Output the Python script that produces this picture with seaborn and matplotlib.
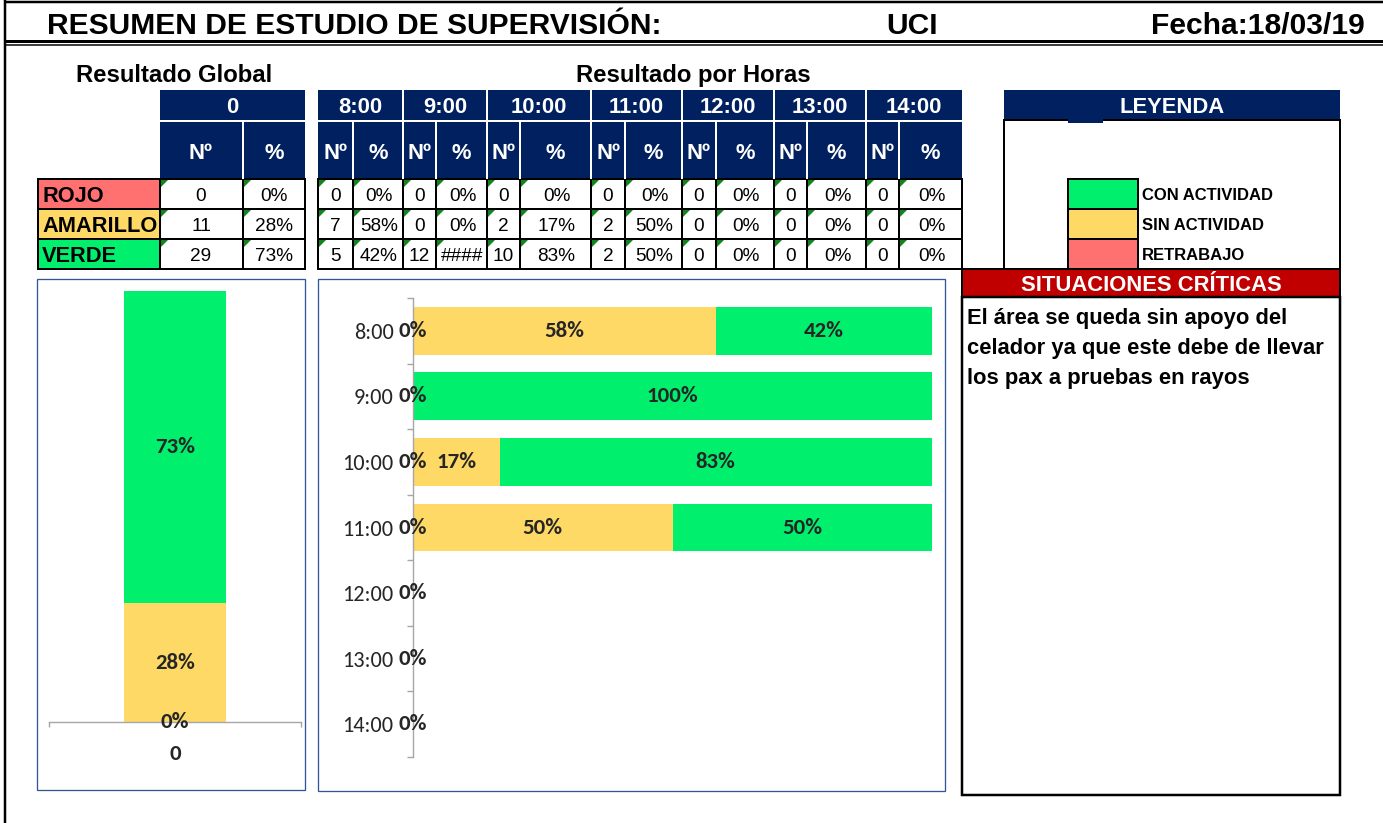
import numpy as np
import pandas as pd
import matplotlib
matplotlib.use("Agg")
import matplotlib.pyplot as plt
import seaborn as sns
from matplotlib.patches import Rectangle, Polygon
from matplotlib import font_manager as fm

# ---------------- data ----------------
title = "RESUMEN DE ESTUDIO DE SUPERVISIÓN:"
unidad = "UCI"
fecha = "Fecha:18/03/19"
hours = ["8:00", "9:00", "10:00", "11:00", "12:00", "13:00", "14:00"]
rojo_n = [0, 0, 0, 0, 0, 0, 0]
amarillo_n = [7, 0, 2, 2, 0, 0, 0]
verde_n = [5, 12, 10, 2, 0, 0, 0]
estados = ["ROJO", "AMARILLO", "VERDE"]
global_label = "0"
leyenda = ["CON ACTIVIDAD", "SIN ACTIVIDAD", "RETRABAJO"]
situaciones = [
    "El área se queda sin apoyo del",
    "celador ya que este debe de llevar",
    "los pax a pruebas en rayos",
]

# ---------------- style ----------------
NAVY = "#002060"
RED = "#FF7171"
YEL = "#FFD966"
GRN = "#00F06E"
CRIT = "#C00000"
FRAME = "#2F5597"
AXGRAY = "#A6A6A6"
TRI = "#11851C"

sns.set_theme(style="white")
_names = {f.name for f in fm.fontManager.ttflist}


def pick(*cands):
    for c in cands:
        if c in _names:
            return c
    return "DejaVu Sans"


ARIAL = pick("Liberation Sans", "Arial")
CALIBRI = pick("Carlito", "Calibri", "Lato", "Open Sans")
plt.rcParams["font.family"] = [ARIAL, "DejaVu Sans"]


def pct(n, t):
    return n / t if t else 0.0


def fmt(p):
    return f"{int(np.floor(p * 100 + 0.5))}%"


# per-hour shares
tot_h = [r + a + v for r, a, v in zip(rojo_n, amarillo_n, verde_n)]
rp = np.array([pct(r, t) for r, t in zip(rojo_n, tot_h)])
ap = np.array([pct(a, t) for a, t in zip(amarillo_n, tot_h)])
vp = np.array([pct(v, t) for v, t in zip(verde_n, tot_h)])

# overall
g_n = [sum(rojo_n), sum(amarillo_n), sum(verde_n)]
g_t = sum(g_n)
g_p = [pct(n, g_t) for n in g_n]

# ---------------- figure ----------------
W, H = 1383, 823
fig = plt.figure(figsize=(W / 100, H / 100), dpi=100)
bg = fig.add_axes([0, 0, 1, 1])
bg.set_xlim(0, W)
bg.set_ylim(H, 0)
bg.axis("off")

PX = 0.72  # points per pixel


def rect(x0, y0, x1, y1, fc="none", ec="none", lw=0.0, z=1):
    bg.add_patch(Rectangle((x0, y0), x1 - x0, y1 - y0, facecolor=fc,
                           edgecolor=ec, linewidth=lw * PX, zorder=z))


def hline(x0, x1, y, color="black", lw=1.5, z=3):
    bg.plot([x0, x1], [y, y], color=color, lw=lw * PX, solid_capstyle="butt", zorder=z)


def vline(x, y0, y1, color="black", lw=1.5, z=3):
    bg.plot([x, x], [y0, y1], color=color, lw=lw * PX, solid_capstyle="butt", zorder=z)


def txt(x, y, s, pt, weight="bold", color="black", ha="center", family=None, z=5):
    px = pt / PX
    bg.text(x, y + 0.36 * px, s, fontsize=pt, fontweight=weight, color=color,
            ha=ha, va="baseline", family=family or ARIAL, zorder=z)


def tri(x, y):
    bg.add_patch(Polygon([(x + 1, y + 1), (x + 8, y + 1), (x + 1, y + 8)],
                         closed=True, facecolor=TRI, edgecolor="none", zorder=4))


# ---- page frame and header ----
vline(5, 0, H, lw=2.5)
hline(5, W, 2, lw=2.5)
hline(5, W, 41, lw=3)
hline(5, W, 45, lw=1.5)
txt(47, 23, title, 21.6, ha="left")
txt(912, 23, unidad, 21.6)
txt(1365, 23, fecha, 21.6, ha="right")

txt(174, 73, "Resultado Global", 17.2)
txt(693, 73, "Resultado por Horas", 17.2)

rows_y = [179, 209, 239, 269]
row_col = [RED, YEL, GRN]

# ---- overall table ----
rect(160, 90, 305, 179, fc=NAVY)
hline(160, 305, 121, color="white", lw=2)
vline(243, 121, 179, color="white", lw=2)
txt(232, 105, global_label, 15.8, color="white")
txt(201, 151, "Nº", 15.8, color="white")
txt(274, 151, "%", 15.8, color="white")

for i, est in enumerate(estados):
    y0, y1 = rows_y[i], rows_y[i + 1]
    rect(38, y0, 160, y1, fc=row_col[i], ec="black", lw=2)
    txt(42, (y0 + y1) / 2, est, 15.7, ha="left")
    rect(160, y0, 243, y1, fc="white", ec="black", lw=2)
    rect(243, y0, 305, y1, fc="white", ec="black", lw=2)
    tri(160, y0)
    tri(243, y0)
    txt(201, (y0 + y1) / 2, str(g_n[i]), 13.7, weight="normal")
    txt(274, (y0 + y1) / 2, fmt(g_p[i]), 13.7, weight="normal")

# ---- hourly table ----
col_edges = [318, 353, 403, 436, 487, 520, 591, 625, 682, 716, 774, 807, 866, 899, 962]
rect(318, 90, 962, 179, fc=NAVY)
hline(318, 962, 121, color="white", lw=2)
for k in range(len(hours)):
    xa, xb, xc = col_edges[2 * k], col_edges[2 * k + 1], col_edges[2 * k + 2]
    if k > 0:
        vline(xa, 90, 179, color="white", lw=2)
    vline(xb, 121, 179, color="white", lw=2)
    txt((xa + xc) / 2, 105, hours[k], 15.8, color="white")
    txt((xa + xb) / 2, 151, "Nº", 15.8, color="white")
    txt((xb + xc) / 2, 151, "%", 15.8, color="white")
    counts = [rojo_n[k], amarillo_n[k], verde_n[k]]
    shares = [rp[k], ap[k], vp[k]]
    for i in range(3):
        y0, y1 = rows_y[i], rows_y[i + 1]
        rect(xa, y0, xb, y1, fc="white", ec="black", lw=2)
        rect(xb, y0, xc, y1, fc="white", ec="black", lw=2)
        tri(xa, y0)
        tri(xb, y0)
        txt((xa + xb) / 2, (y0 + y1) / 2, str(counts[i]), 13.7, weight="normal")
        s = fmt(shares[i])
        if len(s) * 13 > (xc - xb):  # value too wide for the cell
            s = "####"
        txt((xb + xc) / 2 + 1, (y0 + y1) / 2, s, 13.7, weight="normal")

# ---- legend ----
rect(1004, 90, 1340, 120, fc=NAVY)
rect(1068, 119, 1103, 123, fc=NAVY, z=2)
txt(1172, 105, "LEYENDA", 15.8, color="white")
rect(1004, 120, 1340, 269, fc="none", ec="black", lw=2)
for i, (lab, c) in enumerate(zip(leyenda, [GRN, YEL, RED])):
    y0, y1 = rows_y[i], rows_y[i + 1]
    rect(1068, y0, 1138, y1, fc=c, ec="black", lw=2)
    txt(1142, (y0 + y1) / 2, lab, 12, ha="left")

# ---- critical situations ----
rect(962, 269, 1340, 297, fc=CRIT, ec="black", lw=2)
txt(1151, 283, "SITUACIONES CRÍTICAS", 15.8, color="white")
rect(962, 297, 1340, 795, fc="white", ec="black", lw=2.5)
for j, line in enumerate(situaciones):
    txt(967, 316 + 30 * j, line, 15.8, ha="left")

# ---- chart frames ----
rect(37, 279, 305, 790, fc="white", ec=FRAME, lw=1.3)
rect(318, 279, 945, 791, fc="white", ec=FRAME, lw=1.3)


def fig_box(x0, y0, x1, y1):
    return [x0 / W, 1 - y1 / H, (x1 - x0) / W, (y1 - y0) / H]


LBL_PT = 16.5
TICK_PT = 16
# ---- overall stacked column ----
ax1 = fig.add_axes(fig_box(49, 291, 301, 722))
ax1.set_facecolor("none")
g_r, g_a, g_v = g_p
for val, col in [(g_r + g_a + g_v, GRN), (g_r + g_a, YEL), (g_r, RED)]:
    sns.barplot(x=[global_label], y=[val], color=col, saturation=1, width=0.405,
                errorbar=None, linewidth=0, ax=ax1)
ax1.set_xlim(-0.5, 0.5)
ax1.set_ylim(0, 1)
for sp in ["top", "right", "left"]:
    ax1.spines[sp].set_visible(False)
ax1.spines["bottom"].set_color(AXGRAY)
ax1.spines["bottom"].set_linewidth(1.4 * PX)
ax1.set_yticks([])
ax1.set_xticks([0])
ax1.set_xticklabels([global_label], fontsize=LBL_PT, fontweight="bold", family=CALIBRI)
ax1.set_xticks([-0.5, 0.5], minor=True)
ax1.tick_params(axis="x", which="major", length=0, pad=16)
ax1.tick_params(axis="x", which="minor", length=5 * PX, width=1.4 * PX, color=AXGRAY,
                direction="out", bottom=True)
ax1.set_xlabel("")
ax1.set_ylabel("")
bottoms = [0, g_r, g_r + g_a]
for b, v in zip(bottoms, g_p):
    ax1.text(0, b + v / 2, fmt(v), ha="center", va="center", fontsize=LBL_PT,
             fontweight="bold", family=CALIBRI, zorder=6)

# ---- hourly stacked bars ----
ax2 = fig.add_axes(fig_box(413, 298, 932, 757))
ax2.set_facecolor("none")
for vals, col in [(rp + ap + vp, GRN), (rp + ap, YEL), (rp, RED)]:
    sns.barplot(x=vals, y=hours, orient="h", color=col, saturation=1, width=0.73,
                errorbar=None, linewidth=0, ax=ax2)
ax2.set_xlim(0, 1)
ax2.set_ylim(len(hours) - 0.5, -0.5)
for sp in ["top", "right", "bottom"]:
    ax2.spines[sp].set_visible(False)
ax2.spines["left"].set_color(AXGRAY)
ax2.spines["left"].set_linewidth(1.4 * PX)
ax2.set_xticks([])
ax2.set_yticks(range(len(hours)))
ax2.set_yticklabels(hours, fontsize=TICK_PT, family=CALIBRI)
ax2.set_yticks(np.arange(-0.5, len(hours), 1), minor=True)
ax2.tick_params(axis="y", which="major", length=0, pad=14)
ax2.tick_params(axis="y", which="minor", length=6 * PX, width=1.4 * PX, color=AXGRAY,
                direction="out", left=True)
ax2.set_xlabel("")
ax2.set_ylabel("")
for i in range(len(hours)):
    seen = set()
    lefts = [0, rp[i], rp[i] + ap[i]]
    for l, v in zip(lefts, [rp[i], ap[i], vp[i]]):
        key = (round(l + v / 2, 6), fmt(v))
        if key in seen:
            continue
        seen.add(key)
        ax2.text(l + v / 2, i, fmt(v), ha="center", va="center", fontsize=LBL_PT,
                 fontweight="bold", family=CALIBRI, zorder=6)

fig.savefig("out.png", dpi=100)
